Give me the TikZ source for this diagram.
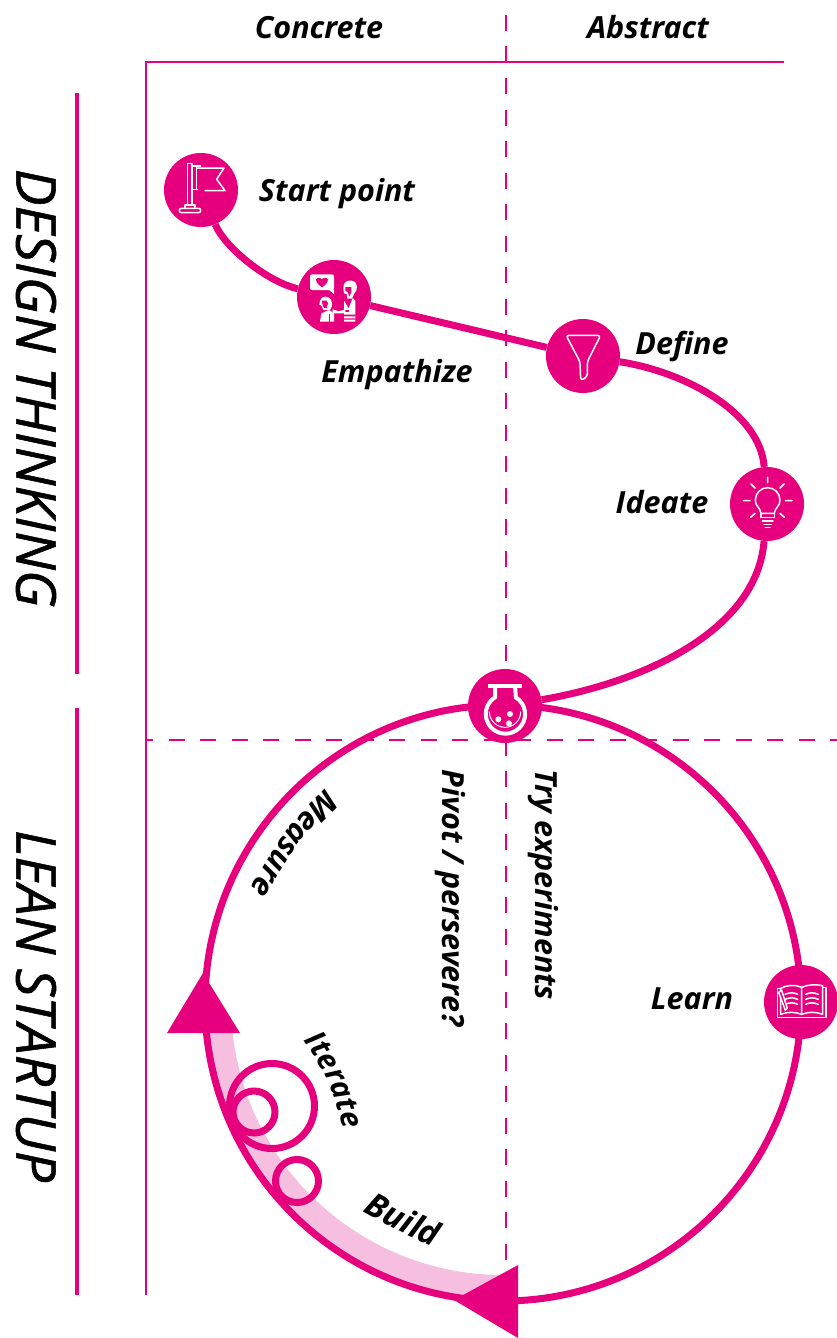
\documentclass[tikz,border=0pt]{standalone}
\usepackage{fontspec}
\setmainfont{Open Sans}
\newfontfamily\bigfam[ItalicFeatures={FakeBold=1}]{Open Sans}
\usetikzlibrary{decorations.text}
\definecolor{mg}{HTML}{E6007E}
\definecolor{mgl}{HTML}{F6BFDF}
\tikzset{
  x=1pt,y=-1pt,
  dot/.style={circle,fill=mg,draw=none,minimum size=74pt,inner sep=0pt},
  conn/.style={draw=mg,line width=7pt},
  axisline/.style={draw=mg,line width=2pt},
  dashline/.style={draw=mg,line width=2pt,dash pattern=on 16pt off 15.5pt},
  lab/.style={font=\fontsize{30.5}{33}\selectfont\bfseries\itshape,inner sep=0pt,text=black},
  big/.style={font=\bigfam\fontsize{55}{60}\selectfont\itshape,inner sep=0pt,text=black,rotate=-90},
  ico/.style={draw=white,line width=1.5pt,line join=round,line cap=round},
  zoomed/.style={x=0.33333pt,y=-0.33333pt},
}
\begin{document}
\begin{tikzpicture}
\useasboundingbox (0,0) rectangle (837,1338);
% axes
\draw[axisline] (146,1295) -- (146,62) -- (784,62);
\draw[dashline] (505.5,15) -- (505.5,1270);
\draw[dashline,dash phase=10pt] (147,740) -- (837,740);
\draw[draw=mg,line width=4pt] (77,93) -- (77,674);
\draw[draw=mg,line width=4pt] (77,708) -- (77,1295);
% band and ring
\coordinate (c) at (503,1003);
\draw[draw=mgl,line width=26pt] (503,1003) ++(175:285) arc[start angle=175,end angle=90,radius=285];
\draw[conn] (c) circle[radius=298pt];
% arrowheads
\fill[mg] (203,973) -- (240,1033) -- (167,1033) -- cycle;
\fill[mg] (454,1300) -- (518,1265) -- (518,1338) -- cycle;
% small circles
\draw[draw=mg,line width=7pt] (272,1106) circle[radius=42.5pt];
\draw[draw=mg,line width=7pt] (254,1112) circle[radius=21pt];
\draw[draw=mg,line width=7pt] (297,1181) circle[radius=21.5pt];
% nodes
\node[dot] (start) at (201,190) {};
\node[dot] (emp) at (334,297) {};
\node[dot] (def) at (583,356) {};
\node[dot] (ide) at (767,504) {};
\node[dot] (flask) at (505,706) {};
\node[dot] (learn) at (801,1002) {};
% connectors
\draw[conn] (start) .. controls (225,248) and (268,282) .. (emp);
\draw[conn] (emp) -- (def);
\draw[conn] (def) .. controls (685,372) and (760,412) .. (ide);
\draw[conn] (ide) .. controls (757,630) and (645,682) .. (flask);
% flag icon
\begin{scope}[shift={(150,140)},zoomed]
\draw[ico] (113,70) rectangle (126,195);
\draw[ico] (126,78) -- (152,78) (126,148) -- (143,148) (140,80) -- (140,148);
\draw[ico] (140,84) -- (222,84) -- (200,118) -- (225,152) -- (165,152);
\draw[ico] (105,195) -- (105,205) (135,195) -- (135,205) (105,195) -- (135,195);
\draw[ico,rounded corners=2pt] (88,205) rectangle (152,218);
\end{scope}
% empathize icon
\begin{scope}[shift={(150,140)},zoomed]
\fill[white,rounded corners=2pt] (480,403) rectangle (552,450);
\fill[white] (535,448) -- (552,448) -- (552,462) -- cycle;
\fill[mg] (516,442) .. controls (490,425) and (495,405) .. (516,417) .. controls (537,405) and (542,425) .. (516,442) -- cycle;
% right person
\fill[white] (580,445) .. controls (578,425) and (595,420) .. (605,422) .. controls (625,425) and (625,450) .. (612,462) -- (606,476) -- (592,476) -- (590,462) -- (582,460) -- cycle;
\fill[mg] (586,441) -- (604,441) -- (604,456) -- (598,470) -- (593,456) -- (586,453) -- cycle;
\fill[white] (582,482) -- (596,505) -- (608,474) -- (616,482) -- (616,545) -- (582,545) -- cycle;
\fill[mg] (582,510) -- (596,510) -- (596,516) -- (582,516) -- cycle;
\fill[mg] (580,524) rectangle (617,529) (580,535) rectangle (617,539);
% left person
\fill[white] (510,482) .. controls (515,465) and (540,465) .. (545,485) .. controls (548,495) and (545,508) .. (538,510) -- (520,510) -- (515,498) -- (508,494) -- cycle;
\fill[mg] (516,482) -- (530,482) -- (534,490) -- (530,505) -- (521,503) -- (517,492) -- cycle;
\fill[white] (510,545) -- (514,520) -- (538,510) -- (552,520) -- (552,545) -- cycle;
\fill[white] (548,508) -- (566,514) -- (586,508) -- (586,520) -- (548,520) -- cycle;
\fill[mg] (537,522) rectangle (541,545);
\end{scope}
% funnel and bulb icons
\begin{scope}[shift={(530,310)},zoomed]
\draw[ico,rounded corners=3pt] (108,76) -- (212,76) -- (172,155) -- (172,200) -- (152,212) -- (150,155) -- cycle;
\draw[ico] (693,610) .. controls (690,590) and (676,590) .. (676,570) arc[start angle=180,end angle=360,radius=37] .. controls (750,590) and (736,590) .. (733,610) -- cycle;
\draw[ico] (693,622) -- (733,622) (697,633) -- (729,633) (702,644) -- (724,644) (706,652) -- (720,652);
\draw[ico] (693,610) -- (693,622) (733,610) -- (733,622);
\draw[ico] (713,502) -- (713,518) (663,522) -- (675,534) (762,522) -- (750,534) (640,572) -- (660,572) (766,572) -- (786,572) (662,622) -- (675,610) (763,622) -- (750,610);
\end{scope}
% flask icon
\begin{scope}[shift={(450,660)},zoomed]
\draw[draw=white,line width=4pt] (115,77) -- (215,77);
\draw[draw=white,line width=4pt] (135,77) -- (135,112) arc[start angle=238,end angle=-58,radius=59] -- (195,77);
\draw[draw=white,line width=1pt] (118,155) arc[start angle=180,end angle=0,radius=47];
\fill[white] (145,178) circle[radius=9] (180,162) circle[radius=9] (177,190) circle[radius=9];
\end{scope}
% book icon
\begin{scope}[shift={(750,955)},zoomed]
\draw[ico] (92,100) -- (82,100) -- (82,188) -- (228,188) -- (228,98) -- (218,98);
\draw[ico] (155,97) .. controls (135,88) and (110,90) .. (92,100) -- (92,178) .. controls (112,170) and (135,170) .. (155,178) .. controls (175,170) and (198,170) .. (218,178) -- (218,92) .. controls (198,88) and (175,88) .. (155,97) -- (155,178);
\draw[ico] (105,118) .. controls (120,112) and (130,112) .. (143,118) (105,133) .. controls (120,127) and (130,127) .. (143,133) (105,148) .. controls (120,142) and (130,142) .. (143,148);
\draw[ico] (167,118) .. controls (180,112) and (190,112) .. (205,118) (167,133) .. controls (180,127) and (190,127) .. (205,133) (167,148) .. controls (180,142) and (190,142) .. (205,148);
\fill[mg] (86,112) -- (95,106) -- (112,160) -- (106,166) -- cycle;
\draw[ico] (86,112) -- (95,106) -- (112,160) -- (106,166) -- cycle;
\end{scope}
% labels
\node[lab,anchor=base] (tconcrete) at (319,38) {Concrete};
\node[lab,anchor=base] (tabstract) at (648,38) {Abstract};
\node[lab,anchor=base] (tstart) at (337,201) {Start point};
\node[lab,anchor=base] (temp) at (397,382) {Empathize};
\node[lab,anchor=base] (tdef) at (682,354) {Define};
\node[lab,anchor=base] (tide) at (662,513) {Ideate};
\node[lab,anchor=base] (tlearn) at (692,1009) {Learn};
\node[big] (tdesign) at (36,388) {DESIGN THINKING};
\node[big] (tlean) at (36,1006) {LEAN STARTUP};
\node[lab,rotate=-90] (tpivot) at (450,898) {Pivot / persevere?};
\node[lab,rotate=-90] (ttry) at (543,885) {Try experiments};
\path[decorate,decoration={text along path,text align=center,text={|\fontsize{31}{33}\selectfont\bfseries\itshape|Measure}}] (335,780) .. controls (288,826) .. (243,900);
\path[decorate,decoration={text along path,text align=center,text={|\fontsize{30}{32}\selectfont\bfseries\itshape|Iterate}}] (297,1032) .. controls (325,1067) and (337,1097) .. (345,1140);
\path[decorate,decoration={text along path,text align=center,text={|\fontsize{33}{35}\selectfont\bfseries\itshape|Build}}] (350,1204) .. controls (385,1225) and (410,1238) .. (448,1252);
\end{tikzpicture}
\end{document}
